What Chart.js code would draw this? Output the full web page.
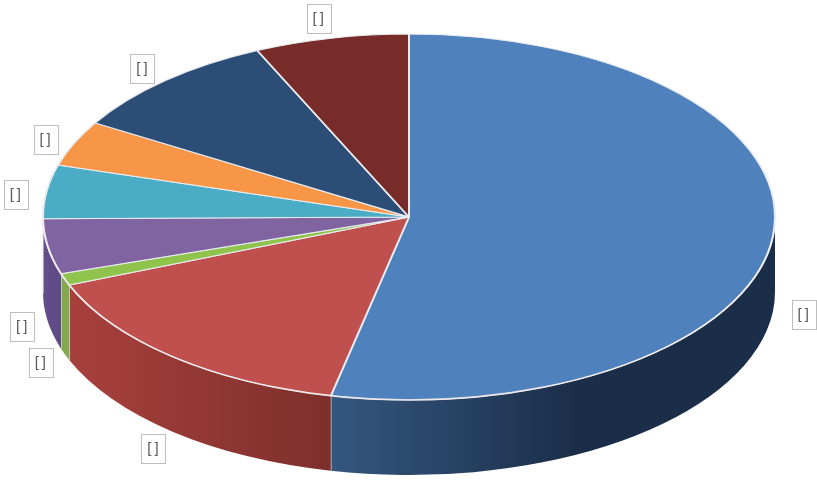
<!DOCTYPE html>
<html>
<head>
<meta charset="utf-8">
<style>
  html, body { margin: 0; padding: 0; background: #fff; }
  canvas { display: block; }
</style>
<script src="https://cdn.jsdelivr.net/npm/chart.js@4"></script>
</head>
<body>
<canvas id="myChart" width="817" height="486"></canvas>
<script>
const categories = ['[]', '[]', '[]', '[]', '[]', '[]', '[]', '[]'];
const values = [53.4, 15.5, 1.05, 4.85, 4.75, 4.0, 9.6, 6.8];
const topColors = ['#4f81bd', '#c0504d', '#8fc34b', '#8064a2', '#4bacc6', '#f79646', '#2c4d75', '#772c2a'];
const wallLeft = ['#34577f', '#a8403d', '#84a84e', '#644d8c', '#38879c', '#c2742f', '#223c5c', '#5c2120'];
const wallRight = ['#1b2e49', '#7d2f2c', '#84a84e', '#5c4a85', '#38879c', '#c2742f', '#223c5c', '#5c2120'];
const wallFade = [0.55, 1, 1, 1, 1, 1, 1, 1];
const boxNudgeX = [0, 1, 5, 5, 0, 0, -2, -6];
const boxNudgeY = [0, 1, 1, 1, 5, 4, 2, -1];

const squash = 0.5;
const depth = 75;

// draws the side of the pie, then flattens the arcs the chart draws next
const tiltPlugin = {
    id: 'tilt',
    beforeDatasetsDraw(chart) {
        const ctx = chart.ctx;
        const arcs = chart.getDatasetMeta(0).data;
        arcs.forEach((arc, i) => {
            const a0 = Math.max(arc.startAngle, 0);
            const a1 = Math.min(arc.endAngle, Math.PI);
            if (a1 <= a0) return;
            const r = arc.outerRadius;
            const ry = r * squash;
            const xRight = arc.x + r * Math.cos(a0);
            const xLeft = arc.x + r * Math.cos(a1);
            const grad = ctx.createLinearGradient(xLeft, 0, xRight, 0);
            grad.addColorStop(0, wallLeft[i]);
            grad.addColorStop(wallFade[i], wallRight[i]);
            grad.addColorStop(1, wallRight[i]);
            ctx.save();
            ctx.beginPath();
            ctx.ellipse(arc.x, arc.y, r, ry, 0, a0, a1);
            ctx.ellipse(arc.x, arc.y + depth, r, ry, 0, a1, a0, true);
            ctx.closePath();
            ctx.fillStyle = grad;
            ctx.fill();
            if (a1 < Math.PI) {
                const yEdge = arc.y + ry * Math.sin(a1);
                ctx.beginPath();
                ctx.moveTo(xLeft, yEdge);
                ctx.lineTo(xLeft, yEdge + depth);
                ctx.strokeStyle = 'rgba(235, 235, 225, 0.75)';
                ctx.lineWidth = 1.5;
                ctx.stroke();
            }
            ctx.restore();
        });
        const first = arcs[0];
        ctx.save();
        ctx.translate(first.x, first.y);
        ctx.scale(1, squash);
        ctx.translate(-first.x, -first.y);
    },
    afterDatasetsDraw(chart) {
        const ctx = chart.ctx;
        ctx.restore();
        // pale rim along the front edge of the top face
        const first = chart.getDatasetMeta(0).data[0];
        ctx.save();
        ctx.beginPath();
        ctx.ellipse(first.x, first.y, first.outerRadius, first.outerRadius * squash, 0, 0, Math.PI);
        ctx.strokeStyle = 'rgba(240, 235, 235, 0.85)';
        ctx.lineWidth = 1.6;
        ctx.stroke();
        ctx.restore();
    }
};

// "[]" boxes sit just outside the slice, below the side on the front half
const boxPlugin = {
    id: 'boxes',
    afterDraw(chart) {
        const ctx = chart.ctx;
        chart.getDatasetMeta(0).data.forEach((arc, i) => {
            const mid = (arc.startAngle + arc.endAngle) / 2;
            const cos = Math.cos(mid);
            const sin = Math.sin(mid);
            const x = arc.x + (arc.outerRadius + 31) * cos + boxNudgeX[i];
            const y = arc.y + arc.outerRadius * squash * sin + 20 * sin + (sin > 0 ? depth : 0) + boxNudgeY[i];
            ctx.save();
            ctx.fillStyle = '#ffffff';
            ctx.strokeStyle = '#bdbdbd';
            ctx.lineWidth = 1;
            ctx.fillRect(Math.round(x - 12) + 0.5, Math.round(y - 14) + 0.5, 24, 29);
            ctx.strokeRect(Math.round(x - 12) + 0.5, Math.round(y - 14) + 0.5, 24, 29);
            ctx.fillStyle = '#595959';
            ctx.font = '15px "Liberation Sans"';
            ctx.letterSpacing = '3px';
            ctx.textAlign = 'center';
            ctx.textBaseline = 'middle';
            ctx.fillText(categories[i], x + 1, y + 1);
            ctx.restore();
        });
    }
};

const ctx = document.getElementById('myChart').getContext('2d');
const myChart = new Chart(ctx, {
    type: 'pie',
    data: {
        labels: categories,
        datasets: [{
            data: values,
            backgroundColor: topColors,
            borderColor: '#e8ecf0',
            borderWidth: 2,
            clip: false
        }]
    },
    options: {
        responsive: false,
        animation: false,
        radius: 366,
        layout: {
            padding: { left: 1, right: 0, top: 0, bottom: 52 }
        },
        plugins: {
            legend: { display: false },
            tooltip: { enabled: false }
        }
    },
    plugins: [tiltPlugin, boxPlugin]
});
</script>
</body>
</html>
